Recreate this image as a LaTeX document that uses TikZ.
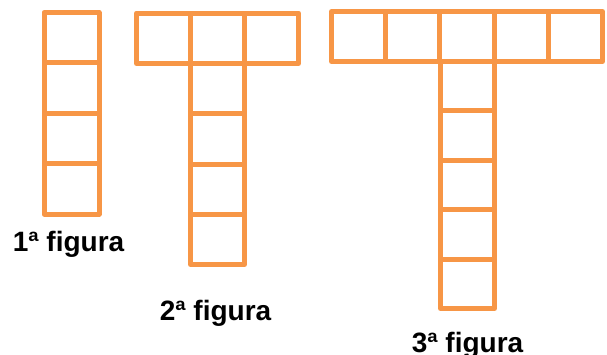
\documentclass[tikz,border=0pt]{standalone}
\usepackage{fontspec}
\setmainfont{Liberation Sans}
\definecolor{org}{RGB}{247,150,70}
\begin{document}
\begin{tikzpicture}[x=1pt,y=-1pt,
  cell/.style={draw=org, line width=5pt, line join=round, line cap=round},
  lab/.style={font=\fontsize{28}{33}\selectfont\bfseries, anchor=base, inner sep=0pt}]
\useasboundingbox (0,0) rectangle (607,354);
% figure 1
\foreach \i in {0,...,3} \draw[cell] (44,{12.5+50.4*\i}) rectangle ++(55,50.4);
% figure 2
\foreach \i in {0,...,2} \draw[cell] ({136.5+54*\i},13) rectangle ++(54,50.5);
\foreach \i in {0,...,3} \draw[cell] (190.5,{63.5+50.25*\i}) rectangle ++(54,50.25);
% figure 3
\foreach \i in {0,...,4} \draw[cell] ({331.5+54.2*\i},11.5) rectangle ++(54.2,50);
\foreach \i in {0,...,4} \draw[cell] (440.5,{61.5+49.4*\i}) rectangle ++(54,49.4);
% labels
\node[lab] (l1) at (68.5,251) {1ª figura};
\node[lab] (l2) at (215.5,320) {2ª figura};
\node[lab] (l3) at (467.5,352) {3ª figura};
\end{tikzpicture}
\end{document}
